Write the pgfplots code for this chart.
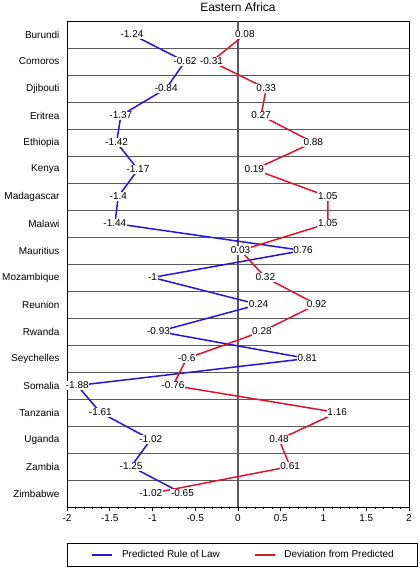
\documentclass[border=0pt]{standalone}
\usepackage{pgfplots}
\usepackage{pgfplotstable}
\pgfplotsset{compat=1.18}
\usepackage{fontspec}
\setmainfont{Liberation Sans}
\definecolor{predblue}{RGB}{40,20,215}
\definecolor{devred}{RGB}{220,20,45}
\definecolor{gridgray}{RGB}{90,90,90}
\pgfplotstableread{
y pred dev
1 -1.24 0.08
2 -0.62 -0.31
3 -0.84 0.33
4 -1.37 0.27
5 -1.42 0.88
6 -1.17 0.19
7 -1.4 1.05
8 -1.44 1.05
9 0.76 0.03
10 -1 0.32
11 0.24 0.92
12 -0.93 0.28
13 0.81 -0.6
14 -1.88 -0.76
15 -1.61 1.16
16 -1.02 0.48
17 -1.25 0.61
18 -0.65 -1.02
}\data
\begin{document}
\fontsize{10bp}{12bp}\selectfont
\begin{tikzpicture}
\path[use as bounding box] (0,0) rectangle (420bp,571bp);
\begin{axis}[
  at={(67bp,64bp)}, anchor=south west,
  scale only axis, width=342bp, height=486bp,
  xmin=-2, xmax=2, ymin=0.5, ymax=18.5,
  y dir=reverse,
  xtick={-2,-1.5,...,2},
  minor x tick num=4,
  tick align=outside,
  xtick pos=left,
  ytick pos=left,
  major tick length=4bp, minor tick length=2bp,
  ytick={1,...,18},
  yticklabels={Burundi,Comoros,Djibouti,Eritrea,Ethiopia,Kenya,Madagascar,Malawi,Mauritius,Mozambique,Reunion,Rwanda,Seychelles,Somalia,Tanzania,Uganda,Zambia,Zimbabwe},
  minor ytick={1.5,2.5,...,17.5},
  yminorgrids=true,
  minor grid style={gridgray, line width=0.9bp},
  ytick style={draw=none},
  extra x ticks={0},
  extra x tick labels={},
  extra x tick style={grid=major, major grid style={gridgray, line width=1.1bp}},
  axis line style={line width=1bp, black},
  tick style={black, line width=0.6bp},
  /pgf/number format/assume math mode=true,
  tick label style={font=\fontsize{10bp}{12bp}\selectfont},
  title={Eastern Africa},
  title style={at={(0.5,1)}, anchor=center, yshift=8bp, font=\fontsize{12bp}{14bp}\selectfont},
  clip mode=individual,
  legend columns=2,
  legend cell align=left,
  legend image code/.code={\draw[#1] (0bp,0bp) -- (20bp,0bp);},
  legend style={at={(0,-0.0741)}, anchor=north west, draw=black, line width=1bp, fill=white,
    inner xsep=24bp, inner ysep=7bp,
    nodes={inner sep=0pt, font=\fontsize{10bp}{12bp}\selectfont},
    /tikz/every odd column/.append style={column sep=9bp},
    /tikz/every even column/.append style={column sep=34bp}},
  nodes near coords style={font=\fontsize{10bp}{12bp}\selectfont, fill=white, inner sep=0.6bp, anchor=center, text=black},
]
\addplot[predblue, line width=1.5bp] table[x=pred, y=y] {\data};
\addlegendentry{Predicted Rule of Law}
\addplot[devred, line width=1.5bp] table[x=dev, y=y] {\data};
\addlegendentry{Deviation from Predicted}
\addplot[draw=none, forget plot, nodes near coords, point meta=explicit symbolic] table[x=pred, y=y, meta=pred] {\data};
\addplot[draw=none, forget plot, nodes near coords, point meta=explicit symbolic] table[x=dev, y=y, meta=dev] {\data};
\end{axis}
\end{tikzpicture}
\end{document}
